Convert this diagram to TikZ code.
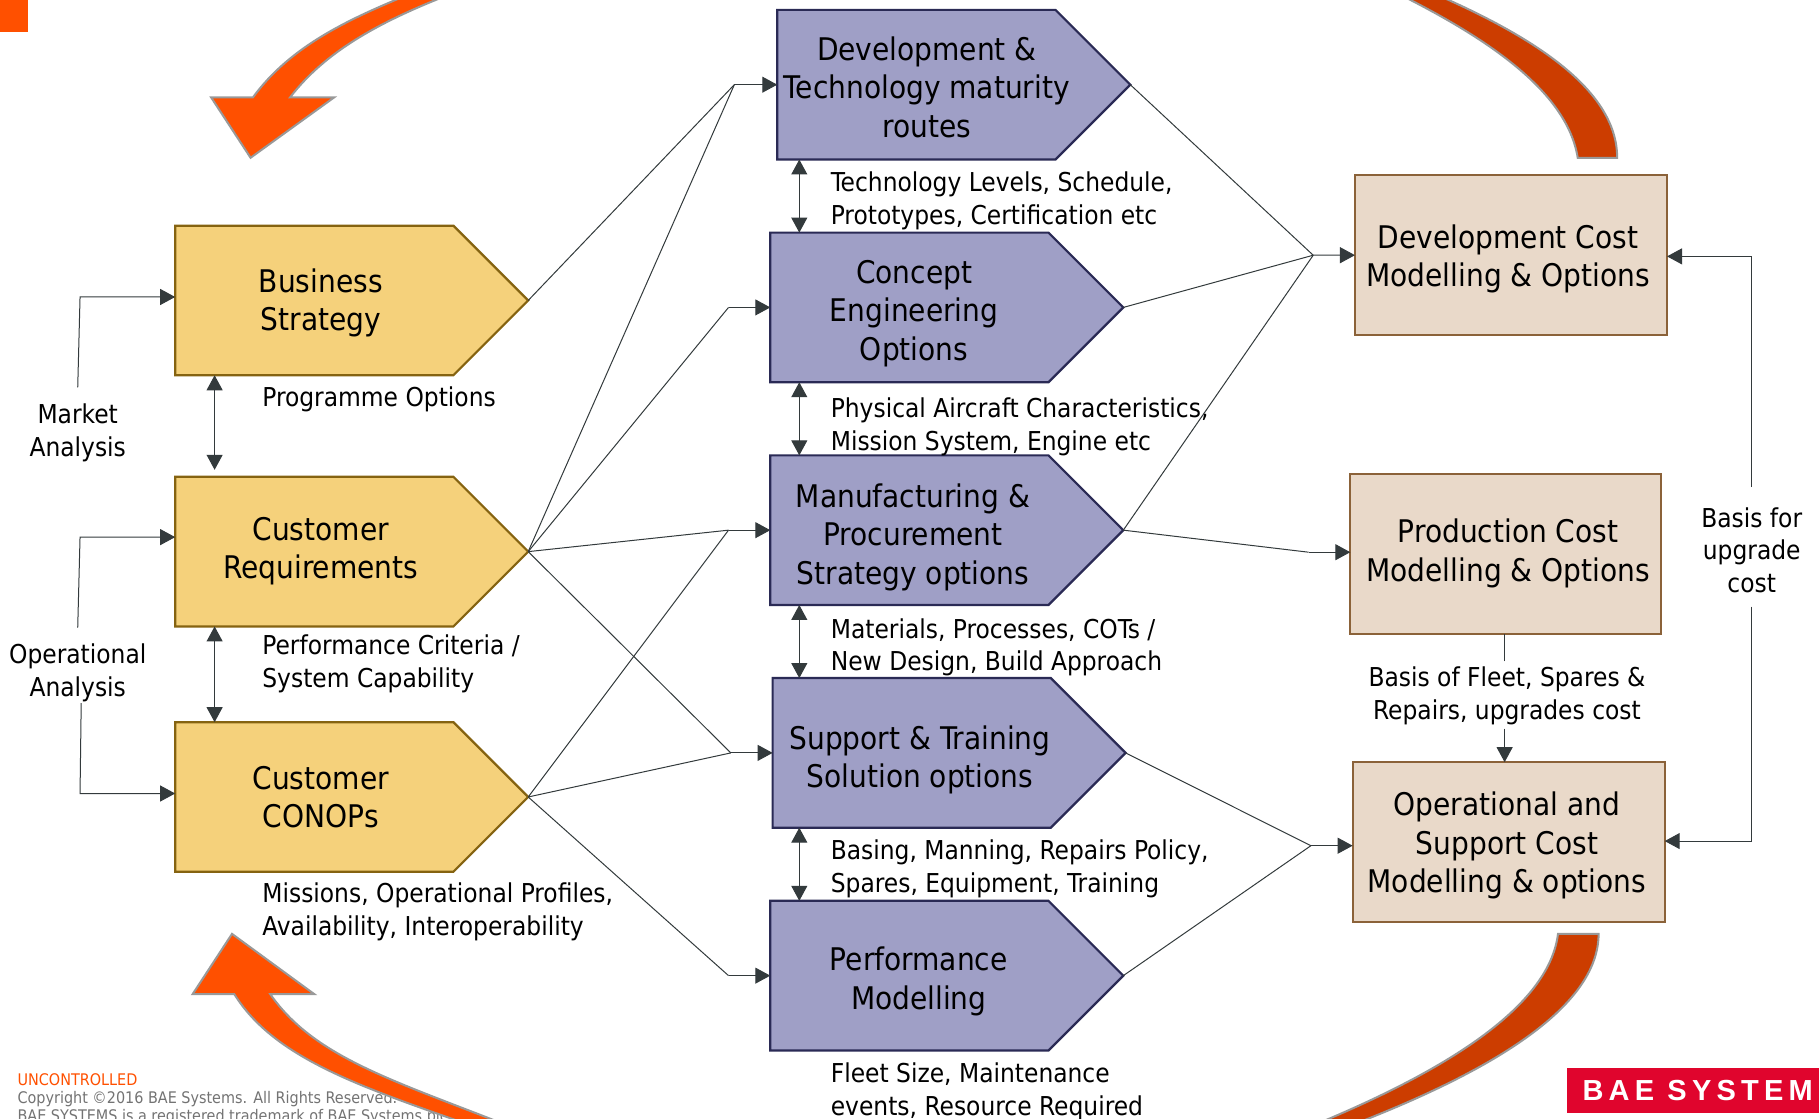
\documentclass[tikz,border=0pt]{standalone}
\usepackage{fontspec}
\setmainfont{DejaVu Sans Condensed}
\newfontfamily\logofont[LetterSpace=18]{Liberation Sans}
\usetikzlibrary{arrows.meta,shapes.symbols}
\definecolor{inputfill}{HTML}{F5D17B}
\definecolor{inputline}{HTML}{856311}
\definecolor{optionfill}{HTML}{9F9FC6}
\definecolor{optionline}{HTML}{2A2A55}
\definecolor{costfill}{HTML}{E9D9C9}
\definecolor{costline}{HTML}{8B6239}
\definecolor{linkcolor}{HTML}{333A3C}
\definecolor{loopbright}{HTML}{FF5000}
\definecolor{loopdark}{HTML}{CC3D00}
\definecolor{logored}{HTML}{E0052D}
\tikzset{
    pentagon/.style={shape=signal,signal to=east,signal pointer angle=90,anchor=west,
        minimum width=353pt,minimum height=149.6pt,inner sep=0pt,outer sep=0pt,line width=2.2pt},
    inputbox/.style={pentagon,draw=inputline,fill=inputfill},
    optionbox/.style={pentagon,draw=optionline,fill=optionfill},
    costbox/.style={draw=costline,fill=costfill,anchor=north west,minimum width=312pt,minimum height=160pt,
        inner sep=0pt,outer sep=0pt,line width=2.2pt},
    boxtext/.style={font=\fontsize{31.2}{38.5}\selectfont,align=center,text=black,inner sep=0pt},
    note/.style={font=\fontsize{26}{32.5}\selectfont,align=left,anchor=west,text=black,inner sep=0pt},
    sidenote/.style={font=\fontsize{26}{32.5}\selectfont,align=center,text=black,inner sep=0pt},
    link/.style={draw=linkcolor,line width=1pt},
    arrowlink/.style={link,-{Triangle[length=15pt,width=16pt]}},
    bothlink/.style={link,{Triangle[length=15pt,width=16pt]}-{Triangle[length=15pt,width=16pt]}},
    bigloop/.style={draw=black!40,line width=2pt},
    footer/.style={font=\fontsize{16}{19}\selectfont,anchor=west,inner sep=0pt}
}
\begin{document}
\begin{tikzpicture}[x=1.16pt,y=-1.16pt]
                \clip (0,0) rectangle (1568,964);
                \fill[loopbright] (0,0) rectangle (24,28);

                \node[inputbox] (business) at (151,259) {};
                \node[inputbox] (requirements) at (151,475.5) {};
                \node[inputbox] (conops) at (151,687) {};
                \node[optionbox] (routes) at (670,73) {};
                \node[optionbox] (concept) at (664,265) {};
                \node[optionbox] (manufacturing) at (664,457) {};
                \node[optionbox] (support) at (666,649) {};
                \node[optionbox] (performance) at (664,841) {};
                \node[costbox] (devcost) at (1168,151) {};
                \node[costbox,minimum width=311pt] (prodcost) at (1164,408.5) {};
                \node[costbox] (opcost) at (1166,657) {};

                \node[boxtext] (businesstext) at (276.5,261) {Business\\Strategy};
                \node[boxtext] (requirementstext) at (276.5,475) {Customer\\Requirements};
                \node[boxtext] (conopstext) at (276.5,687) {Customer\\CONOPs};
                \node[boxtext] (routestext) at (799,75) {Development \&\\Technology maturity\\routes};
                \node[boxtext] (concepttext) at (788,270) {Concept\\Engineering\\Options};
                \node[boxtext] (manufacturingtext) at (787,463) {Manufacturing \&\\Procurement\\Strategy options};
                \node[boxtext] (supporttext) at (793,655) {Support \& Training\\Solution options};
                \node[boxtext] (performancetext) at (792,846) {Performance\\Modelling};
                \node[boxtext] (devcosttext) at (1300,223) {Development Cost\\Modelling \& Options};
                \node[boxtext] (prodcosttext) at (1300,477) {Production Cost\\Modelling \& Options};
                \node[boxtext] (opcosttext) at (1299,729) {Operational and\\Support Cost\\Modelling \& options};

                \node[note] (programme) at (226,344) {Programme Options};
                \node[note] (criteria) at (226,572) {Performance Criteria /\\System Capability};
                \node[note] (missions) at (226,786) {Missions, Operational Profiles,\\Availability, Interoperability};
                \node[note] (levels) at (716,173) {Technology Levels, Schedule,\\Prototypes, Certification etc};
                \node[note] (physical) at (716,368) {Physical Aircraft Characteristics,\\Mission System, Engine etc};
                \node[note] (materials) at (716,558) {Materials, Processes, COTs /\\New Design, Build Approach};
                \node[note] (basing) at (716,749) {Basing, Manning, Repairs Policy,\\Spares, Equipment, Training};
                \node[note] (fleet) at (716,941) {Fleet Size, Maintenance\\events, Resource Required};
                \node[sidenote] (market) at (67,373) {Market\\Analysis};
                \node[sidenote] (operational) at (67,580) {Operational\\Analysis};
                \node[sidenote] (upgrade) at (1510,474) {Basis for\\upgrade\\cost};
                \node[sidenote] (spares) at (1299,600) {Basis of Fleet, Spares \&\\Repairs, upgrades cost};

                \coordinate (routesin) at (633,73);
                \coordinate (conceptin) at (628,265);
                \coordinate (manufacturingin) at (628,457);
                \coordinate (supportin) at (630,649);
                \coordinate (performancein) at (628,841);
                \coordinate (devcostin) at (1132,220);
                \coordinate (prodcostin) at (1128,476);
                \coordinate (opcostin) at (1130,729);

                \draw[link] (business.east) -- (routesin);
                \draw[link] (requirements.east) -- (routesin);
                \draw[link] (requirements.east) -- (conceptin);
                \draw[link] (requirements.east) -- (manufacturingin);
                \draw[link] (requirements.east) -- (supportin);
                \draw[link] (conops.east) -- (manufacturingin);
                \draw[link] (conops.east) -- (supportin);
                \draw[link] (conops.east) -- (performancein);
                \draw[arrowlink] (routesin) -- (routes.west);
                \draw[arrowlink] (conceptin) -- (concept.west);
                \draw[arrowlink] (manufacturingin) -- (manufacturing.west);
                \draw[arrowlink] (supportin) -- (support.west);
                \draw[arrowlink] (performancein) -- (performance.west);

                \draw[link] (routes.east) -- (devcostin);
                \draw[link] (concept.east) -- (devcostin);
                \draw[link] (manufacturing.east) -- (devcostin);
                \draw[link] (manufacturing.east) -- (prodcostin);
                \draw[link] (support.east) -- (opcostin);
                \draw[link] (performance.east) -- (opcostin);
                \draw[arrowlink] (devcostin) -- (devcost.west);
                \draw[arrowlink] (prodcostin) -- (prodcostin -| prodcost.west);
                \draw[arrowlink] (opcostin) -- (opcostin -| opcost.west);

                \coordinate (inputaxis) at (185,0);
                \coordinate (optionaxis) at (689,0);
                \draw[bothlink,shorten >=7pt] (inputaxis |- business.south) -- (inputaxis |- requirements.north);
                \draw[bothlink] (inputaxis |- requirements.south) -- (inputaxis |- conops.north);
                \draw[bothlink] (optionaxis |- routes.south) -- (optionaxis |- concept.north);
                \draw[bothlink] (optionaxis |- concept.south) -- (optionaxis |- manufacturing.north);
                \draw[bothlink] (optionaxis |- manufacturing.south) -- (optionaxis |- support.north);
                \draw[bothlink] (optionaxis |- support.south) -- (optionaxis |- performance.north);

                \coordinate (marketend) at (67,334);
                \coordinate (operationalup) at (67,541);
                \coordinate (operationaldown) at (70,606);
                \coordinate (upgradeup) at (1510,420);
                \coordinate (upgradedown) at (1510,523);
                \coordinate (sparesup) at (1297,570);
                \coordinate (sparesdown) at (1297,628);
                \draw[arrowlink] (marketend) -- (69,256) -- (151,256);
                \draw[arrowlink] (operationalup) -- (69,463) -- (151,463);
                \draw[arrowlink] (operationaldown) -- (69,684) -- (151,684);
                \draw[arrowlink] (upgradeup) -- (1510,221) -- (1437,221);
                \draw[arrowlink] (upgradedown) -- (1510,725) -- (1435,725);
                \draw[link] (sparesup) -- (sparesup |- prodcost.south);
                \draw[arrowlink] (sparesdown) -- (sparesdown |- opcost.north);

                \node[footer,text=loopbright] (uncontrolled) at (15,931) {UNCONTROLLED};
                \node[footer,text=black!55] (copyright) at (15,947.5) {Copyright ©2016 BAE Systems. All Rights Reserved.};
                \node[footer,text=black!55] (trademark) at (15,963) {BAE SYSTEMS is a registered trademark of BAE Systems plc};

                \filldraw[bigloop,fill=loopbright] (216,136) -- (182,84) -- (218,84)
                    .. controls (250,40) and (300,17) .. (348,-3) -- (383,-3)
                    .. controls (325,20) and (280,45) .. (250,84) -- (288,84) -- cycle;
                \filldraw[bigloop,fill=loopbright] (200,805) -- (166,857) -- (202,857)
                    .. controls (235,910) and (305,935) .. (400,968) -- (432,968)
                    .. controls (335,930) and (270,910) .. (233,857) -- (271,857) -- cycle;
                \filldraw[bigloop,fill=loopdark] (1360,136)
                    .. controls (1351,80) and (1285,35) .. (1210,-3) -- (1242,-3)
                    .. controls (1328,35) and (1394,80) .. (1394,136) -- cycle;
                \filldraw[bigloop,fill=loopdark] (1343,805)
                    .. controls (1335,870) and (1240,925) .. (1137,968) -- (1170,968)
                    .. controls (1280,925) and (1378,870) .. (1378,805) -- cycle;

                \fill[logored] (1351,921) rectangle (1568,959);
                \node[anchor=west,inner sep=0pt,text=white,font=\logofont\bfseries\fontsize{29}{29}\selectfont] (logo) at (1364,940) {BAE SYSTEM};
            \end{tikzpicture}
\end{document}
